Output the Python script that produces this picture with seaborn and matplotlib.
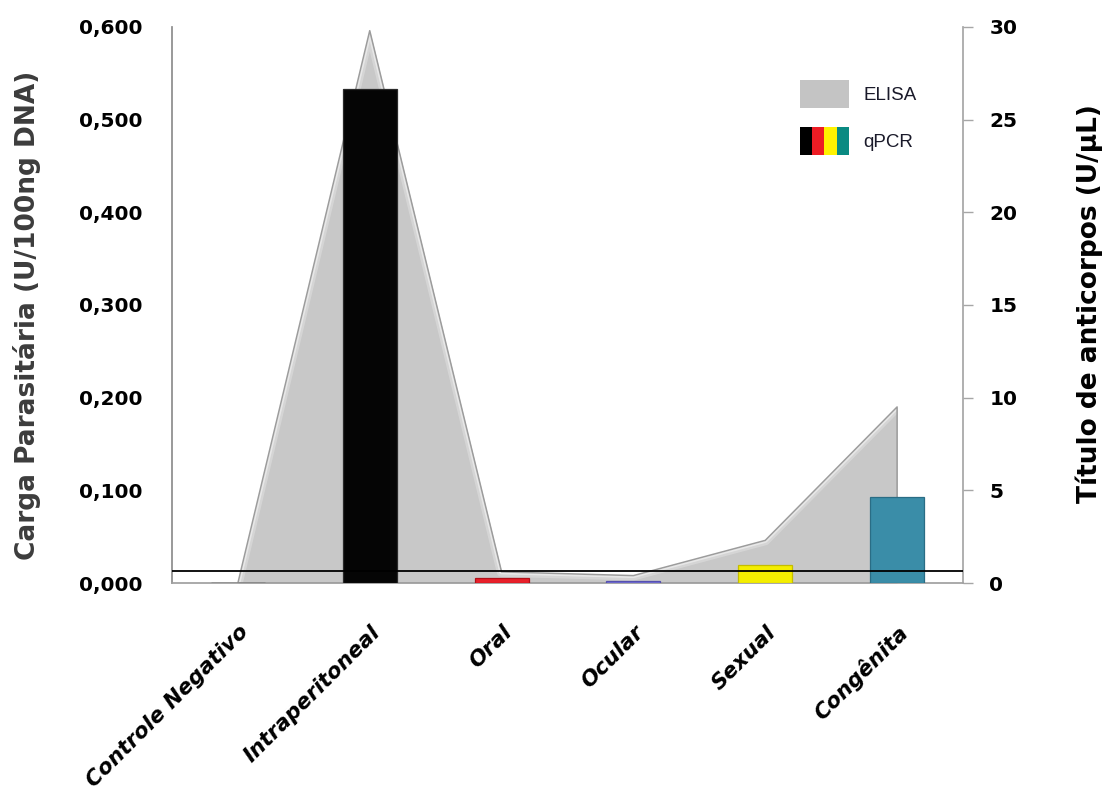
import matplotlib
matplotlib.use("Agg")
import matplotlib.pyplot as plt
import seaborn as sns
import numpy as np
from matplotlib.patches import Patch
from matplotlib.legend_handler import HandlerTuple
from matplotlib.ticker import FuncFormatter, MultipleLocator

# Routes of infection
categories = ["Controle Negativo", "Intraperitoneal", "Oral", "Ocular", "Sexual", "Congênita"]
# Parasite load by qPCR (U/100ng DNA), left axis
qpcr = [0.0, 0.533, 0.005, 0.002, 0.019, 0.093]
# Antibody titre by ELISA (U/µL), right axis
elisa = [0.0, 29.8, 0.6, 0.4, 2.3, 9.5]
# Cut-off line (left axis units)
cutoff = 0.013

bar_colors = ["#000000", "#050505", "#e8202a", "#7470d6", "#f4ee00", "#3a8da8"]
bar_edges = ["#000000", "#2a2a2a", "#b01018", "#5550b0", "#c4bc00", "#2a6d85"]
legend_stripes = ["#000000", "#ed1c24", "#fff200", "#0a8a82"]
area_color = "#c8c8c8"

sns.set_theme(style="white")
plt.rcParams["font.family"] = ["DejaVu Sans"]

fig = plt.figure(figsize=(11.11, 7.98), dpi=100)
ax = fig.add_axes([0.1548, 0.2694, 0.712, 0.6968])
ax2 = ax.twinx()

# ELISA area on the secondary axis, drawn behind the bars
x_pos = np.arange(len(categories))
area = ax2.fill_between(x_pos, elisa, 0, color=area_color, linewidth=0, zorder=1)
# soft inner highlight along the top edge of the area
clip = area.get_paths()[0]
for lw, a in [(7, 0.25), (3.5, 0.45)]:
    glow = sns.lineplot(x=x_pos, y=elisa, ax=ax2, color="white", linewidth=lw, alpha=a, zorder=2)
    glow.lines[-1].set_clip_path(clip, transform=ax2.transData)
ax2.fill_between(x_pos, elisa, 0, facecolor="none", edgecolor="#9c9c9c", linewidth=1.1, zorder=3)
ax2.set_ylim(0, 30)
ax2.yaxis.set_major_locator(MultipleLocator(5))
ax2.set_xlim(-0.5, len(categories) - 0.5)

ax.set_zorder(ax2.get_zorder() + 1)
ax.patch.set_visible(False)

sns.barplot(x=categories, y=qpcr, hue=categories, palette=bar_colors, legend=False,
            width=0.41, saturation=1, ax=ax, zorder=3)
for bar, ec in zip(ax.patches, bar_edges):
    bar.set_edgecolor(ec)
    bar.set_linewidth(0.9)
ax.axhline(cutoff, color="black", linewidth=1.3, zorder=4)

ax.set_xlim(-0.5, len(categories) - 0.5)
ax.set_ylim(0, 0.6)
ax.yaxis.set_major_locator(MultipleLocator(0.1))
ax.yaxis.set_major_formatter(FuncFormatter(lambda v, p: f"{v:.3f}".replace(".", ",")))

# Spines
ax.spines["top"].set_visible(False)
ax2.spines["top"].set_visible(False)
ax2.spines["left"].set_visible(False)
ax2.spines["bottom"].set_visible(False)
ax.spines["right"].set_visible(False)
ax.spines["left"].set_color("#8c8c8c")
ax.spines["bottom"].set_color("#a0a0a0")
ax2.spines["right"].set_color("#a6a6a6")

ax.tick_params(axis="y", length=0, pad=21, labelsize=14.5)
ax.tick_params(axis="x", length=0, pad=28)
ax2.tick_params(axis="y", direction="out", length=7, width=1, color="#a6a6a6", pad=12, labelsize=14.5)
for lab in ax.get_yticklabels() + ax2.get_yticklabels():
    lab.set_fontweight("bold")
    lab.set_color("black")

ax.set_xticks(x_pos)
ax.set_xticklabels(categories, rotation=45, ha="right", rotation_mode="anchor",
                   fontsize=15.5, fontweight="bold", fontstyle="italic", color="black")
ax.set_xlabel("")
ax2.set_xlabel("")

ax.set_ylabel("Carga Parasitária (U/100ng DNA)", fontsize=19, fontweight="bold", color="#3c3c3c")
ax.yaxis.set_label_coords(-0.166, 0.482)
ax2.set_ylabel("Título de anticorpos (U/µL)", fontsize=19, fontweight="bold", color="black")
ax2.yaxis.set_label_coords(1.1416, 0.502)

# Legend
handles = [Patch(facecolor="#c4c4c4", edgecolor="none"),
           tuple(Patch(facecolor=c, edgecolor="none") for c in legend_stripes)]
leg = ax.legend(handles, ["ELISA", "qPCR"],
                handler_map={tuple: HandlerTuple(ndivide=None, pad=0)},
                loc="upper left", bbox_to_anchor=(800 / 1111, 1 - 80 / 798),
                bbox_transform=fig.transFigure, frameon=False,
                handlelength=2.6, handleheight=1.9, handletextpad=0.77,
                labelspacing=1.05, borderpad=0, borderaxespad=0,
                prop={"family": "Liberation Sans", "size": 13.5})
for t in leg.get_texts():
    t.set_color("#1a1a2a")

fig.savefig("out.png", dpi=100)
